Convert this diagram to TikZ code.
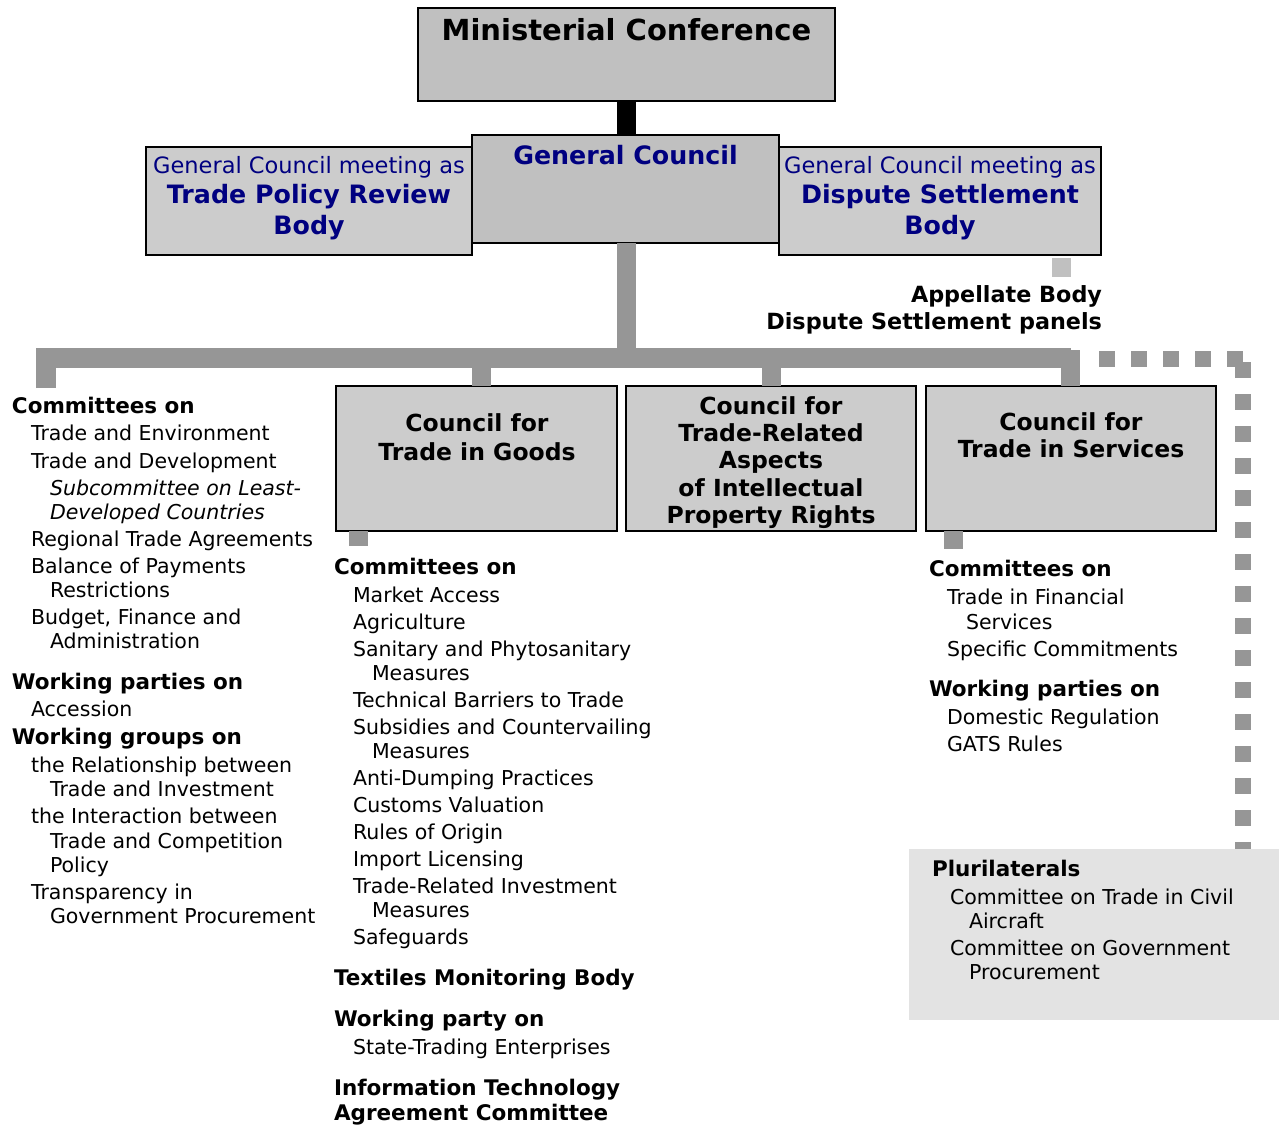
\documentclass[tikz,border=0pt]{standalone}
\usepackage{fontspec}
\setmainfont{DejaVu Sans}
\definecolor{mcgray}{HTML}{C0C0C0}
\definecolor{boxgray}{HTML}{CCCCCC}
\definecolor{conngray}{HTML}{969696}
\definecolor{lightconn}{HTML}{C0C0C0}
\definecolor{plgray}{HTML}{E3E3E3}
\definecolor{navyblue}{HTML}{000080}
\begin{document}
\begin{tikzpicture}[x=1pt,y=-1pt,
  every node/.style={inner sep=0pt,outer sep=0pt},
  box/.style={draw=black,line width=1.6pt,fill=boxgray,anchor=north west},
  mcbox/.style={box,fill=mcgray},
  gconn/.style={draw=conngray,line width=19pt},
  bconn/.style={draw=black,line width=19pt},
  dotconn/.style={draw=conngray,line width=16pt,dash pattern=on 16pt off 16pt},
  hd/.style={font=\fontsize{21.5}{25}\selectfont\bfseries},
  it/.style={font=\fontsize{20.5}{24}\selectfont},
  ic/.style={font=\fontsize{20.5}{24}\selectfont\itshape},
  mctitle/.style={font=\fontsize{29}{32}\selectfont\bfseries},
  bluebold/.style={font=\fontsize{25.3}{28}\selectfont\bfseries,text=navyblue},
  bluereg/.style={font=\fontsize{22.5}{26}\selectfont,text=navyblue},
  ctitle/.style={font=\fontsize{23.5}{27}\selectfont\bfseries},
  abody/.style={font=\fontsize{22.3}{26}\selectfont\bfseries}]
\useasboundingbox (0,0) rectangle (1279,1124);

% ---- top boxes ----
\node[mcbox,minimum width=417pt,minimum height=93pt] (mc) at (418,8) {};
\node[box,minimum width=326pt,minimum height=108pt] (tprb) at (146,147) {};
\node[box,minimum width=322pt,minimum height=108pt] (dsb) at (779,147) {};
\node[mcbox,minimum width=307pt,minimum height=108pt] (gc) at (472,135) {};
\draw[bconn] (mc.south) -- (mc.south |- gc.north);

\node[mctitle,anchor=base] (mct) at (626.5,41) {Ministerial Conference};
\node[bluebold,anchor=base] (gct) at (625.5,164) {General Council};
\node[bluereg,anchor=base] (tp1) at (309,173) {General Council meeting as};
\node[bluebold,anchor=base] (tp2) at (309,203) {Trade Policy Review};
\node[bluebold,anchor=base] (tp3) at (309,234) {Body};
\node[bluereg,anchor=base] (ds1) at (940,173) {General Council meeting as};
\node[bluebold,anchor=base] (ds2) at (940,203) {Dispute Settlement};
\node[bluebold,anchor=base] (ds3) at (940,234) {Body};

% ---- appellate ----
\fill[lightconn] (1052,258) rectangle (1071,277);
\node[abody,anchor=base east] (ab1) at (1102,302) {Appellate Body};
\node[abody,anchor=base east] (ab2) at (1102,329) {Dispute Settlement panels};

% ---- councils ----
\node[box,minimum width=281pt,minimum height=145pt] (goods) at (336,386) {};
\node[box,minimum width=290pt,minimum height=145pt] (trips) at (626,386) {};
\node[box,minimum width=290pt,minimum height=145pt] (serv) at (926,386) {};

\node[ctitle,anchor=base] (g1) at (477,431) {Council for};
\node[ctitle,anchor=base] (g2) at (477,460) {Trade in Goods};
\node[ctitle,anchor=base] (t1) at (771,414) {Council for};
\node[ctitle,anchor=base] (t2) at (771,441) {Trade-Related};
\node[ctitle,anchor=base] (t3) at (771,468) {Aspects};
\node[ctitle,anchor=base] (t4) at (771,496) {of Intellectual};
\node[ctitle,anchor=base] (t5) at (771,523) {Property Rights};
\node[ctitle,anchor=base] (s1) at (1071,430) {Council for};
\node[ctitle,anchor=base] (s2) at (1071,457) {Trade in Services};

% ---- connectors ----
\coordinate (barL) at (45.5,388);
\coordinate (barR) at (1071,358);
\draw[gconn] (mc.south |- gc.south) -- (mc.south |- barR);
\draw[gconn,line width=20pt,miter limit=10] (barL) -- (45.5,358) -- (barR);
\draw[gconn] (481.5,358) -- (481.5,386) coordinate (gN);
\draw[gconn] (771.5,358) -- (771.5,386) coordinate (tN);
\draw[gconn] (1070.5,350) -- (1070.5,386) coordinate (sN);
\draw[gconn] (358.5,531) -- (358.5,546) coordinate (gS);
\draw[gconn] (953,531) -- (953,549) coordinate (sS);

% ---- plurilaterals ----
\node[anchor=north west,fill=plgray,minimum width=370pt,minimum height=171pt] (plur) at (909,849) {};
\coordinate (dA) at (1099,359);
\coordinate (dB) at (1243,359);
\draw[dotconn] (dA) -- (dB);
\draw[dotconn] (1243,362) -- (plur.north -| dB);

% ---- left column ----
\foreach \xx/\yy/\sty/\txt [count=\i] in {
 12/413/hd/Committees on,
 31/440/it/Trade and Environment,
 31/468/it/Trade and Development,
 50/495/ic/Subcommittee on Least-,
 50/519/ic/Developed Countries,
 31/546/it/Regional Trade Agreements,
 31/573/it/Balance of Payments,
 50/597/it/Restrictions,
 31/624/it/{Budget, Finance and},
 50/648/it/Administration,
 12/689/hd/Working parties on,
 31/716/it/Accession,
 12/744/hd/Working groups on,
 31/772/it/the Relationship between,
 50/796/it/Trade and Investment,
 31/823/it/the Interaction between,
 50/848/it/Trade and Competition,
 50/872/it/Policy,
 31/899/it/Transparency in,
 50/923/it/Government Procurement}
 \node[style=\sty,anchor=base west] (L\i) at (\xx,\yy) {\txt};

% ---- middle column ----
\foreach \xx/\yy/\sty/\txt [count=\i] in {
 334/574/hd/Committees on,
 353/602/it/Market Access,
 353/629/it/Agriculture,
 353/656/it/Sanitary and Phytosanitary,
 372/680/it/Measures,
 353/707/it/Technical Barriers to Trade,
 353/734/it/Subsidies and Countervailing,
 372/758/it/Measures,
 353/785/it/Anti-Dumping Practices,
 353/812/it/Customs Valuation,
 353/839/it/Rules of Origin,
 353/866/it/Import Licensing,
 353/893/it/Trade-Related Investment,
 372/917/it/Measures,
 353/944/it/Safeguards,
 334/985/hd/Textiles Monitoring Body,
 334/1026/hd/Working party on,
 353/1054/it/State-Trading Enterprises,
 334/1095/hd/Information Technology,
 334/1120/hd/Agreement Committee}
 \node[style=\sty,anchor=base west] (M\i) at (\xx,\yy) {\txt};

% ---- right column ----
\foreach \xx/\yy/\sty/\txt [count=\i] in {
 929/576/hd/Committees on,
 947/604/it/Trade in Financial,
 966/629/it/Services,
 947/656/it/Specific Commitments,
 929/696/hd/Working parties on,
 947/724/it/Domestic Regulation,
 947/751/it/GATS Rules,
 932/876/hd/Plurilaterals,
 950/904/it/Committee on Trade in Civil,
 969/928/it/Aircraft,
 950/955/it/Committee on Government,
 969/979/it/Procurement}
 \node[style=\sty,anchor=base west] (R\i) at (\xx,\yy) {\txt};
\end{tikzpicture}
\end{document}
